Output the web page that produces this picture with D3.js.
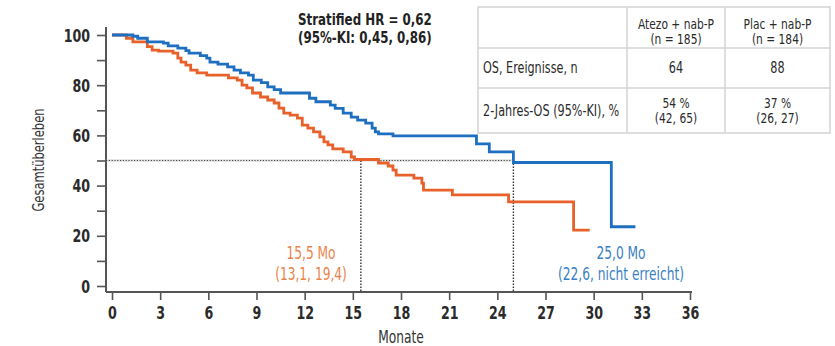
<!DOCTYPE html>
<html>
<head>
<meta charset="utf-8">
<script src="https://cdn.jsdelivr.net/npm/d3@7"></script>
<style>
  html, body { margin: 0; padding: 0; background: #fff; }
  svg { display: block; }
  text { font-family: "DejaVu Sans Condensed", "DejaVu Sans", sans-serif; font-stretch: condensed; }
</style>
</head>
<body>
<svg id="chart" width="835" height="346"></svg>
<script>
// ---- data ----
const atezoTime = [0,1.3,1.6,2.2,3.2,3.5,4.1,4.6,4.8,5.5,5.9,6.1,6.6,7.2,7.6,8.0,8.5,8.8,9.3,9.7,10.1,10.5,12.3,12.7,13.6,13.9,14.4,14.9,15.3,15.8,16.2,16.4,16.6,17.5,22.7,23.5,25.0,31.1,32.6];
const atezoSurv = [100,99.5,98.7,97.3,96.8,95.7,94.8,93.8,92.8,91.8,90.8,89.2,88.4,87.3,86.0,84.9,84.0,82.0,81.0,79.3,78.2,76.9,74.8,73.4,72.1,70.8,68.9,67.3,66.1,64.9,62.9,61.4,60.6,59.8,56.6,53.4,49.2,23.6,23.6];
const placTime = [0,0.9,1.3,2.2,2.5,2.9,3.8,4.1,4.3,4.6,4.9,5.3,5.9,7.25,7.8,8.1,8.4,8.75,9.25,9.7,10.1,10.4,10.7,11.1,11.55,11.85,12.2,12.55,12.95,13.2,13.45,13.75,14.4,14.9,15.1,16.6,17.2,17.5,17.7,18.8,19.3,19.4,21.2,24.7,28.75,29.75];
const placSurv = [100,98.7,97.3,95.4,94.0,93.6,92.8,90.8,89.2,88.0,86.0,84.9,84.0,82.9,82.0,80.0,78.9,76.9,75.3,74.1,72.9,70.9,68.9,68.1,66.9,64.1,62.9,61.4,59.4,57.4,56.2,54.6,53.4,51.4,50.4,49.0,47.8,46.2,44.2,43.0,41.0,38.2,36.3,33.5,22.3,22.3];
const medians = [15.5, 25.0];
const medianLabels = [["15,5 Mo", "(13,1, 19,4)"], ["25,0 Mo", "(22,6, nicht erreicht)"]];
const xTicks = [0,3,6,9,12,15,18,21,24,27,30,33,36];
const yTicks = [0,20,40,60,80,100];
const yMinorTicks = [10,30,50,70,90];
const hrLines = ["Stratified HR = 0,62", "(95%-KI: 0,45, 0,86)"];
const tableHeader = [["Atezo + nab-P", "(n = 185)"], ["Plac + nab-P", "(n = 184)"]];
const tableRowLabels = ["OS, Ereignisse, n", "2-Jahres-OS (95%-KI), %"];
const tableRow1 = [["64"], ["88"]];
const tableRow2 = [["54 %", "(42, 65)"], ["37 %", "(26, 27)"]];

// ---- colours ----
const blue = "#1f6fc1", orange = "#e8602a";
const blueText = "#3b7fc4", orangeText = "#e8854d";
const axisCol = "#555";

const svg = d3.select("#chart");
const x = d3.scaleLinear().domain([0, 36]).range([112, 690]);
const y = d3.scaleLinear().domain([0, 100]).range([286, 35]);
const xAxisY = 292, yAxisX = 106;

// helper: horizontally compressed text
function ctext(g, px, py, str, opts) {
  const sx = opts.sx || 0.8;
  const t = g.append("text")
    .attr("transform", `translate(${px},${py}) scale(${sx},1)`)
    .attr("text-anchor", opts.anchor || "start")
    .attr("font-size", opts.size || 15)
    .attr("font-weight", opts.weight || "normal")
    .attr("fill", opts.fill || "#2a2a2a")
    .text(str);
  return t;
}

// y axis
const yAx = svg.append("g").attr("transform", `translate(${yAxisX},0)`)
  .call(d3.axisLeft(y).tickValues(yTicks).tickSize(9).tickPadding(7).tickFormat(d3.format("d")));
yAx.select(".domain").remove();
yAx.selectAll(".tick line").attr("stroke", axisCol).attr("stroke-width", 1.6);
yAx.selectAll(".tick text").remove();
yAx.selectAll(".tick").each(function(d) {
  ctext(d3.select(this), -16, 6, d3.format("d")(d), {anchor: "end", size: 18, weight: "bold", sx: 0.78});
});
const yMin = svg.append("g").attr("transform", `translate(${yAxisX},0)`)
  .call(d3.axisLeft(y).tickValues(yMinorTicks).tickSize(9).tickFormat(""));
yMin.select(".domain").remove();
yMin.selectAll(".tick line").attr("stroke", axisCol).attr("stroke-width", 1.6);
svg.append("line").attr("x1", yAxisX).attr("x2", yAxisX).attr("y1", 27).attr("y2", xAxisY)
  .attr("stroke", axisCol).attr("stroke-width", 2);

// x axis
const xAx = svg.append("g").attr("transform", `translate(0,${xAxisY})`)
  .call(d3.axisBottom(x).tickValues(xTicks).tickSize(8).tickPadding(8));
xAx.select(".domain").remove();
xAx.selectAll(".tick line").attr("stroke", axisCol).attr("stroke-width", 1.6);
xAx.selectAll(".tick text").remove();
xAx.selectAll(".tick").each(function(d) {
  ctext(d3.select(this), 0, 27, String(d), {anchor: "middle", size: 18, weight: "bold", sx: 0.78});
});
svg.append("line").attr("x1", yAxisX).attr("x2", 692).attr("y1", xAxisY).attr("y2", xAxisY)
  .attr("stroke", axisCol).attr("stroke-width", 2);

// axis titles
ctext(svg, 401, 343, "Monate", {anchor: "middle", size: 17, fill: "#333", sx: 0.8});
svg.append("text").attr("transform", "translate(44,160) rotate(-90) scale(0.8,1)").attr("text-anchor", "middle")
  .attr("font-size", 16).attr("fill", "#333").text("Gesamtüberleben");

// median reference lines
svg.append("line").attr("x1", yAxisX).attr("x2", x(medians[1])).attr("y1", y(50)).attr("y2", y(50))
  .attr("stroke", "#bbb").attr("stroke-width", 3).attr("opacity", 0.35);
svg.append("line").attr("x1", yAxisX).attr("x2", x(medians[1])).attr("y1", y(50)).attr("y2", y(50))
  .attr("stroke", "#444").attr("stroke-width", 1.2).attr("stroke-dasharray", "1.2,1.6");
medians.forEach(m => {
  svg.append("line").attr("x1", x(m)).attr("x2", x(m)).attr("y1", y(50)).attr("y2", xAxisY)
    .attr("stroke", "#333").attr("stroke-width", 1.4).attr("stroke-dasharray", "1.5,1.5");
});

// curves
const line = d3.line().x(d => x(d[0])).y(d => y(d[1])).curve(d3.curveStepAfter);
const placData = placTime.map((t, i) => [t, placSurv[i]]);
const atezoData = atezoTime.map((t, i) => [t, atezoSurv[i]]);
svg.append("path").attr("d", line(placData)).attr("fill", "none").attr("stroke", orange).attr("stroke-width", 2.8);
svg.append("path").attr("d", line(atezoData)).attr("fill", "none").attr("stroke", blue).attr("stroke-width", 2.8);

// median labels
const labPos = [[311, orangeText], [621, blueText]];
medianLabels.forEach((lbl, i) => {
  ctext(svg, labPos[i][0], 259, lbl[0], {anchor: "middle", size: 17, fill: labPos[i][1], sx: 0.8});
  ctext(svg, labPos[i][0], 280, lbl[1], {anchor: "middle", size: 17, fill: labPos[i][1], sx: 0.8});
});

// HR text
hrLines.forEach((s, i) => {
  ctext(svg, 298, 25 + i * 17.6, s, {size: 15, weight: "bold", fill: "#222", sx: 0.88});
});

// table
const tb = svg.append("g");
const tx0 = 478, tx1 = 627, tx2 = 725, tx3 = 830;
const ty0 = 7, ty1 = 48, ty2 = 88, ty3 = 133;
tb.append("rect").attr("x", tx0).attr("y", ty0).attr("width", tx3 - tx0).attr("height", ty3 - ty0)
  .attr("fill", "#fff").attr("stroke", "#d4d4d4").attr("stroke-width", 1.5);
[ty1, ty2].forEach(yy => tb.append("line").attr("x1", tx0).attr("x2", tx3).attr("y1", yy).attr("y2", yy)
  .attr("stroke", "#d4d4d4").attr("stroke-width", 1.5));
[tx1, tx2].forEach(xx => tb.append("line").attr("x1", xx).attr("x2", xx).attr("y1", ty0).attr("y2", ty3)
  .attr("stroke", "#d4d4d4").attr("stroke-width", 1.5));
const colC = [(tx1 + tx2) / 2, (tx2 + tx3) / 2];
const fs = 13.2, tcol = "#2a2a2a", sxT = 0.9;
tableHeader.forEach((h, i) => {
  ctext(tb, colC[i], 28.5, h[0], {anchor: "middle", size: fs, fill: tcol, sx: sxT});
  ctext(tb, colC[i], 44, h[1], {anchor: "middle", size: fs, fill: tcol, sx: sxT});
});
ctext(tb, 483, 73, tableRowLabels[0], {size: 16, fill: tcol, sx: 0.78});
ctext(tb, 483, 116, tableRowLabels[1], {size: 16, fill: tcol, sx: 0.78});
tableRow1.forEach((v, i) => {
  ctext(tb, colC[i], 73, v[0], {anchor: "middle", size: 16, fill: tcol, sx: 0.78});
});
tableRow2.forEach((v, i) => {
  ctext(tb, colC[i], 107.5, v[0], {anchor: "middle", size: fs, fill: tcol, sx: sxT});
  ctext(tb, colC[i], 123, v[1], {anchor: "middle", size: fs, fill: tcol, sx: sxT});
});
</script>
</body>
</html>
